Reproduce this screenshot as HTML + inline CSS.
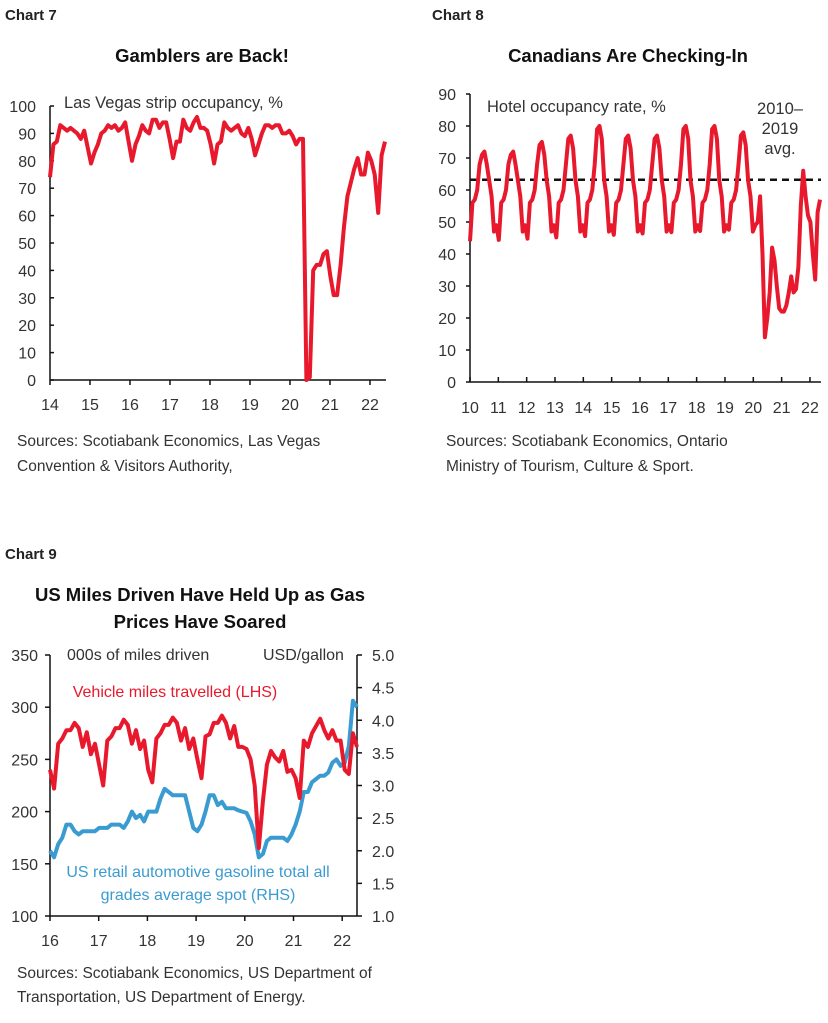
<!DOCTYPE html>
<html><head><meta charset="utf-8"><style>
body{margin:0;background:#fff;}
svg{display:block;font-family:"Liberation Sans",sans-serif;}
.t{font-size:15.5px;fill:#333;}
.lab{font-size:15px;fill:#222;font-weight:bold;}
.ti{font-size:18.5px;fill:#111;font-weight:bold;}
.src{font-size:15.5px;fill:#333;}
</style></head><body>
<svg id="s" width="828" height="1023" viewBox="0 0 828 1023">
<text x="5" y="20" class="lab">Chart 7</text>
<text x="202" y="62" class="ti" text-anchor="middle">Gamblers are Back!</text>
<text x="432" y="20" class="lab">Chart 8</text>
<text x="628" y="62" class="ti" text-anchor="middle">Canadians Are Checking-In</text>
<text x="5" y="559" class="lab">Chart 9</text>
<text x="200" y="601" class="ti" text-anchor="middle">US Miles Driven Have Held Up as Gas</text>
<text x="200" y="628" class="ti" text-anchor="middle">Prices Have Soared</text>

<text x="64" y="108" class="t" style="font-size:16.5px">Las Vegas strip occupancy, %</text>
<text x="487" y="112" class="t" style="font-size:16.5px">Hotel occupancy rate, %</text>
<text x="780" y="114" class="t" text-anchor="middle" style="font-size:16.5px">2010–</text>
<text x="780" y="134" class="t" text-anchor="middle" style="font-size:16.5px">2019</text>
<text x="780" y="154" class="t" text-anchor="middle" style="font-size:16.5px">avg.</text>
<text x="67" y="660" class="t" style="font-size:16px">000s of miles driven</text>
<text x="263" y="660" class="t" style="font-size:16px">USD/gallon</text>
<text x="175" y="697" class="t" text-anchor="middle" style="fill:#e8192c;font-size:16px">Vehicle miles travelled (LHS)</text>
<text x="198" y="877" class="t" text-anchor="middle" style="fill:#3a9bd1;font-size:16px">US retail automotive gasoline total all</text>
<text x="198" y="900" class="t" text-anchor="middle" style="fill:#3a9bd1;font-size:16px">grades average spot (RHS)</text>

<text x="17" y="446" class="src">Sources: Scotiabank Economics, Las Vegas</text>
<text x="17" y="471" class="src">Convention &amp; Visitors Authority,</text>
<text x="446" y="446" class="src">Sources: Scotiabank Economics, Ontario</text>
<text x="446" y="471" class="src">Ministry of Tourism, Culture &amp; Sport.</text>
<text x="17" y="978" class="src">Sources: Scotiabank Economics, US Department of</text>
<text x="17" y="1002" class="src">Transportation, US Department of Energy.</text>
<g id="g"></g>
</svg>
<script>
var g=document.getElementById('g'),h='';
function L(x1,y1,x2,y2,c,w,d){h+='<line x1="'+x1+'" y1="'+y1+'" x2="'+x2+'" y2="'+y2+'" stroke="'+(c||'#111')+'" stroke-width="'+(w||1.5)+'"'+(d?' stroke-dasharray="'+d+'"':'')+'/>';}
function T(x,y,s,a){h+='<text x="'+x+'" y="'+y+'" class="t" style="font-size:16px" text-anchor="'+(a||'end')+'">'+s+'</text>';}
function P(arr,x0,x1,f,c){var p=[];for(var i=0;i<arr.length;i++){p.push((x0+i*(x1-x0)/(arr.length-1)).toFixed(1)+','+f(arr[i]).toFixed(1));}h+='<polyline points="'+p.join(' ')+'" fill="none" stroke="'+c+'" stroke-width="4" stroke-linejoin="round"/>';}
// chart 7
var y7=function(v){return 380-v*2.74;};
L(50,106,50,380);L(50,380,386,380);
for(var v=0;v<=100;v+=10){L(50,y7(v),54,y7(v));T(36,y7(v)+6,v);}
for(var k=0;k<9;k++){var x=50+40*k;L(x,380,x,385);T(x,410,14+k,'middle');}
var d7=[74,86,87,93,92,91,92,91,90,88,91,85,79,83,86,90,91,93,92,93,91,92,94,87,80,86,89,93,91,90,95,95,92,94,94,88,81,87,87,95,92,91,94,96,92,92,91,86,79,86,87,94,92,91,92,93,90,89,92,88,82,86,90,93,93,92,93,93,90,90,91,89,86,88,88,0,1,40,42,42,46,47,38,31,31,42,56,67,72,77,81,75,75,83,80,75,61,82,87];
P(d7,50,385,y7,'#e8192c');
// chart 8
var y8=function(v){return 382-v*3.2;};
L(470,94,470,382);L(470,382,821,382);
for(v=0;v<=90;v+=10){L(470,y8(v),466,y8(v));T(456,y8(v)+6,v);}
for(k=0;k<13;k++){x=470+28.33*k;L(x,382,x,377);T(x,413,10+k,'middle');}
L(470,y8(63.2),821,y8(63.2),'#111',2.5,'7,5');
var pk=[72,72,75,77,80,77,77,80,80,78];
var d8b=[];for(var yr=0;yr<10;yr++){var p=pk[yr];d8b.push(44+yr*0.4,56,57,60,68,p-1,p,p-4,63,58,47,49);}
d8b=d8b.concat([50,58,40,14,20,28,42,38,30,23,22,22,24,28,33,28,29,36,55,66,58,52,50,40,32,53,57]);
P(d8b,470,820,y8,'#e8192c');
// chart 9
var y9=function(v){return 916-(v-100)*261/250;};
var r9=function(v){return 916-(v-1)*261/4;};
L(50,655,50,916);L(357,655,357,916);L(50,916,357,916);
for(v=100;v<=350;v+=50){L(50,y9(v),45,y9(v));T(38,y9(v)+6,v);}
for(v=1;v<=5;v+=0.5){L(357,r9(v),362,r9(v));T(372,r9(v)+6,v.toFixed(1),'start');}
for(k=0;k<7;k++){x=50+48.7*k;L(x,916,x,921);T(x,946,16+k,'middle');}
var vm=[240,222,265,270,278,278,285,280,262,276,255,265,245,225,268,272,280,280,288,283,265,278,260,268,240,228,270,275,283,283,290,285,268,280,260,270,250,232,272,274,285,285,292,285,270,282,262,262,260,250,225,165,210,245,258,252,248,258,238,240,232,213,268,262,275,282,289,278,270,278,268,268,240,236,275,262];
var gs=[2.0,1.9,2.1,2.2,2.4,2.4,2.3,2.25,2.3,2.3,2.3,2.3,2.35,2.35,2.35,2.4,2.4,2.4,2.35,2.45,2.6,2.5,2.55,2.45,2.6,2.6,2.6,2.8,2.95,2.9,2.85,2.85,2.85,2.85,2.6,2.35,2.3,2.4,2.6,2.85,2.85,2.7,2.75,2.65,2.65,2.65,2.62,2.6,2.58,2.45,2.25,1.9,1.95,2.15,2.2,2.2,2.2,2.2,2.15,2.25,2.4,2.6,2.9,2.9,3.05,3.1,3.15,3.15,3.2,3.35,3.4,3.3,3.35,3.6,4.3,4.2];
P(gs,50,357,r9,'#3a9bd1');
P(vm,50,357,y9,'#e8192c');
g.innerHTML=h;
</script>
</body></html>
